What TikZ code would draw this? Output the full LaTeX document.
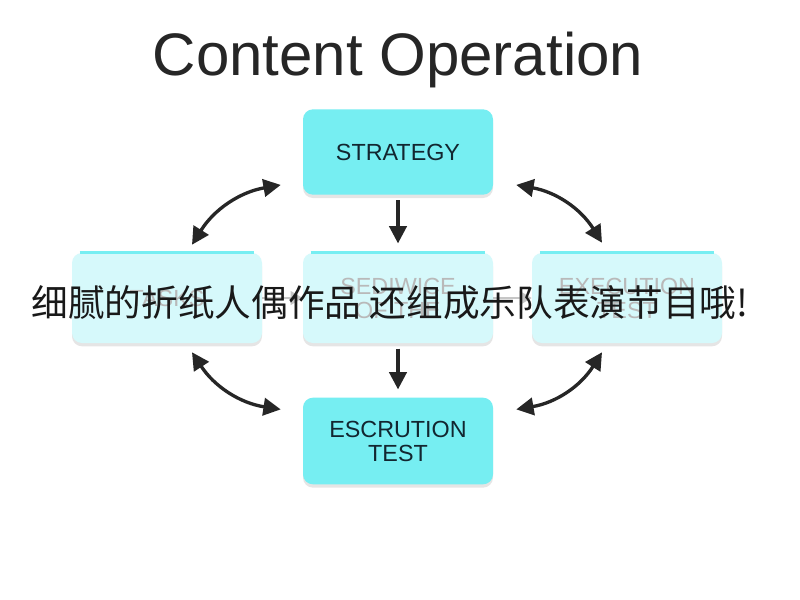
\documentclass[tikz,border=0pt]{standalone}
\usepackage{fontspec}
\setmainfont{Liberation Sans}
\newfontfamily\cjk{Noto Sans CJK SC}
\usetikzlibrary{arrows.meta,shadows}
\definecolor{boxcyan}{RGB}{118,238,242}
\definecolor{palecyan}{RGB}{214,249,251}
\definecolor{inkblue}{RGB}{18,38,48}
\begin{document}
\begin{tikzpicture}[
    x=0.75pt,y=-0.75pt,
    every node/.style={font=\fontsize{17.5}{18}\selectfont},
    stagebox/.style={rounded corners=7.5pt,minimum width=142.5pt,minimum height=64pt,
        fill=boxcyan,text=inkblue,align=center,
        drop shadow={opacity=.2,shadow xshift=0pt,shadow yshift=-2.5pt}},
    fadedbox/.style={stagebox,fill=palecyan,text=gray!55,minimum height=67.5pt},
    flow/.style={-{Triangle[length=13pt,width=13pt]},line width=2.5pt,black!85,shorten >=1pt},
    swap/.style={{Triangle[length=13pt,width=13pt]}-{Triangle[length=13pt,width=13pt]},
        line width=2.5pt,black!85},
    ghost/.style={-{Triangle[length=9pt,width=10pt]},line width=2pt,gray!45}]
    \useasboundingbox[fill=white] (0,0) rectangle (800,600);
    \node[font=\fontsize{45}{50}\selectfont,text=black!85,anchor=base] (title) at (398,75) {Content Operation};
    \node[stagebox] (strategy) at (398,152) {STRATEGY};
    \node[fadedbox] (tasks) at (167,298) {TASKS};
    \node[fadedbox] (service) at (398,298) {SEDIWICE\\OF THE};
    \node[fadedbox] (execution) at (627,298) {EXECUTION\\TEST};
    \node[stagebox,minimum height=65pt] (escrution) at (398,441) {ESCRUTION\\TEST};
    \foreach \n in {tasks,service,execution}
        \draw[boxcyan,line width=2pt] ([xshift=6pt]\n.north west) -- ([xshift=-6pt]\n.north east);
    \draw[ghost] (tasks.east) -- (service.west);
    \draw[ghost] (service.east) -- (execution.west);
    \draw[flow] ([yshift=-4pt]strategy.south) -- ([yshift=6pt]service.north);
    \draw[flow] ([yshift=-4pt]service.south) -- ([yshift=5pt]escrution.north);
    \draw[swap] ([shift={(25,-8)}]tasks.north) to[bend left=24] ([shift={(-22,-10)}]strategy.south west);
    \draw[swap] ([shift={(23,-10)}]strategy.south east) to[bend left=24] ([shift={(-25,-10)}]execution.north);
    \draw[swap] ([shift={(25,9)}]tasks.south) to[bend right=24] ([shift={(-22,12)}]escrution.north west);
    \draw[swap] ([shift={(23,12)}]escrution.north east) to[bend right=24] ([shift={(-25,9)}]execution.south);
    \node[font=\cjk\fontsize{27.5}{30}\selectfont,text=black!90] (caption) at (390,303)
        {细腻的折纸人偶作品 还组成乐队表演节目哦!};
\end{tikzpicture}
\end{document}
